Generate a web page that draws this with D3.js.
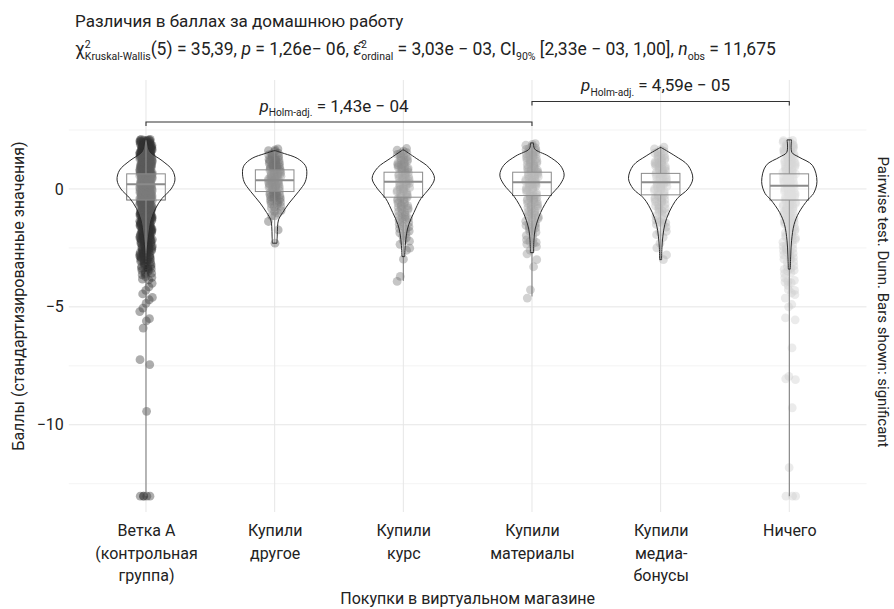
<!DOCTYPE html>
<html>
<head>
<meta charset="utf-8">
<title>Различия в баллах за домашнюю работу</title>
<script src="https://d3js.org/d3.v7.min.js"></script>
<style>
  body { margin: 0; background: #fff; }
  text { font-family: Roboto, "Liberation Sans", sans-serif; fill: #222; }
</style>
</head>
<body>
<div id="chart"></div>
<script>
// ---- data ----
var categories = ["Ветка А (контрольная группа)", "Купили другое", "Купили курс",
                  "Купили материалы", "Купили медиа-бонусы", "Ничего"];
var tickLines = [["Ветка А", "(контрольная", "группа)"], ["Купили", "другое"], ["Купили", "курс"],
                 ["Купили", "материалы"], ["Купили", "медиа-", "бонусы"], ["Ничего"]];
var yTicks = [0, -5, -10];

var boxQ1     = [-0.47, -0.11, -0.35, -0.28, -0.25, -0.47];
var boxMedian = [0.20, 0.37, 0.30, 0.28, 0.28, 0.14];
var boxQ3     = [0.64, 0.81, 0.71, 0.71, 0.66, 0.64];
var whiskerLow  = [-13.03, -2.30, -3.90, -4.56, -3.00, -13.03];
var whiskerHigh = [2.22, 1.72, 1.74, 1.95, 1.80, 2.08];

// violin outline: [value, relative half width]
var violinG1 = [[2.2,0],[2.0,0.04],[1.58,0.12],[1.2,0.5],[0.8,0.82],[0.38,0.9],[0,0.78],[-0.4,0.5],
                [-0.82,0.3],[-1.3,0.16],[-2.0,0.08],[-2.7,0.03],[-3.5,0.015]];
var violinG2 = [[1.62,0.02],[1.5,0.3],[1.3,0.7],[1.0,0.95],[0.73,1.0],[0.3,0.95],[-0.1,0.75],
                [-0.6,0.45],[-1.0,0.25],[-1.31,0.12],[-1.6,0.09],[-2.0,0.08],[-2.3,0.07]];
var violinG3 = [[1.65,0.02],[1.3,0.4],[0.9,0.8],[0.45,0.97],[0.0,0.8],[-0.4,0.55],[-1.0,0.33],
                [-1.5,0.17],[-1.9,0.1],[-2.4,0.06],[-2.87,0.04]];
var violinG4 = [[1.95,0.05],[1.7,0.08],[1.4,0.5],[1.0,0.88],[0.59,1.0],[0.2,0.88],[-0.33,0.55],
                [-1.0,0.27],[-1.7,0.1],[-2.2,0.06],[-2.7,0.05]];
var violinG5 = [[1.75,0.02],[1.4,0.45],[1.0,0.85],[0.45,1.0],[0.0,0.85],[-0.4,0.52],[-1.0,0.26],
                [-1.5,0.13],[-2.0,0.07],[-2.5,0.04],[-3.0,0.03]];
var violinG6 = [[2.08,0.07],[1.55,0.08],[1.35,0.3],[1.0,0.72],[0.31,0.86],[-0.2,0.75],[-0.45,0.58],
                [-1.0,0.3],[-1.5,0.15],[-2.2,0.07],[-2.8,0.045],[-3.4,0.03]];

// dense point band: [value, number of points around it]
var bandG1 = [[1.98,24],[1.73,28],[1.48,30],[1.23,30],[0.98,32],[0.73,32],[0.48,32],[0.23,32],
              [-0.02,32],[-0.27,32],[-0.52,30],[-0.77,28],[-1.02,26],[-1.27,25],[-1.52,23],[-1.77,22],
              [-2.02,20],[-2.27,18],[-2.52,16],[-2.77,14],[-3.02,12],[-3.27,9],[-3.52,7],[-3.77,4]];
var bandG2 = [[1.6,6],[1.35,9],[1.1,11],[0.85,12],[0.6,12],[0.35,12],[0.1,12],[-0.15,10],[-0.4,9],
              [-0.65,6],[-0.9,4]];
var bandG3 = [[1.62,5],[1.37,6],[1.12,8],[0.87,8],[0.62,8],[0.37,8],[0.12,8],[-0.13,8],[-0.38,7],
              [-0.63,6],[-0.88,6],[-1.13,6],[-1.38,5],[-1.63,4],[-1.88,4],[-2.13,3]];
var bandG4 = [[1.83,6],[1.58,8],[1.33,8],[1.08,9],[0.83,9],[0.58,9],[0.33,9],[0.08,9],[-0.17,8],
              [-0.42,8],[-0.67,7],[-0.92,6],[-1.17,6],[-1.42,6],[-1.67,5],[-1.92,4],[-2.17,4],[-2.42,3]];
var bandG5 = [[1.68,5],[1.43,6],[1.18,8],[0.93,8],[0.68,8],[0.43,8],[0.18,8],[-0.07,8],[-0.32,6],
              [-0.57,6],[-0.82,5],[-1.07,4],[-1.32,4],[-1.57,3],[-1.82,3]];
var bandG6 = [[1.96,8],[1.71,9],[1.46,9],[1.21,9],[0.96,10],[0.71,10],[0.46,10],[0.21,10],[-0.04,10],
              [-0.29,10],[-0.54,9],[-0.79,9],[-1.04,9],[-1.29,8],[-1.54,8],[-1.79,7],[-2.04,6],[-2.29,6],
              [-2.54,6],[-2.79,5],[-3.04,5],[-3.29,4],[-3.54,4],[-3.79,3],[-4.04,3],[-4.29,3],[-4.54,2]];

// single points outside the band
var outliersG1 = [-4.0,-4.15,-4.3,-4.45,-4.6,-4.7,-4.85,-5.05,-5.2,-5.5,-5.6,-5.9,-7.24,-7.45,-9.43,
                  -13.03,-13.03,-13.03,-13.03,-13.03];
var outliersG2 = [-1.14,-1.14,-1.38,-1.74,-2.3];
var outliersG3 = [-2.35,-2.51,-2.6,-2.98,-3.71,-3.92];
var outliersG4 = [-2.6,-2.75,-3.0,-3.3,-4.28,-4.63];
var outliersG5 = [-2.05,-2.3,-2.5,-2.8,-3.0];
var outliersG6 = [-4.9,-5.0,-5.47,-5.55,-6.74,-7.95,-8.05,-8.09,-9.28,-11.82,-13.03,-13.03,-13.03];

var pairFrom = [0, 3];
var pairTo = [3, 5];
var pairP = ["1,43e \u2212 04", "4,59e \u2212 05"];
var pairLevel = [2.84, 3.71];

var violins = [violinG1, violinG2, violinG3, violinG4, violinG5, violinG6];
var bands = [bandG1, bandG2, bandG3, bandG4, bandG5, bandG6];
var outliers = [outliersG1, outliersG2, outliersG3, outliersG4, outliersG5, outliersG6];
var pointColor = ["#333333", "#525252", "#707070", "#8f8f8f", "#adadad", "#cccccc"];

// ---- layout ----
var W = 894, H = 609;
var pLeft = 68.8, pRight = 866.5, pTop = 80, pBottom = 512;

var svg = d3.select("#chart").append("svg").attr("width", W).attr("height", H);

var x = d3.scalePoint().domain(categories).range([pLeft, pRight]).padding(0.6);
var y = d3.scaleLinear().domain([-13.7, 4.62]).range([pBottom, pTop]);
var step = x.step();

// grid
var grid = svg.append("g");
grid.selectAll(".minor").data([2.5, -2.5, -7.5, -12.5]).enter().append("line")
    .attr("x1", pLeft).attr("x2", pRight)
    .attr("y1", function(d) { return y(d); }).attr("y2", function(d) { return y(d); })
    .attr("stroke", "#f0f0f0").attr("stroke-width", 0.8);
grid.selectAll(".major").data(yTicks).enter().append("line")
    .attr("x1", pLeft).attr("x2", pRight)
    .attr("y1", function(d) { return y(d); }).attr("y2", function(d) { return y(d); })
    .attr("stroke", "#e6e6e6").attr("stroke-width", 1);
grid.selectAll(".vert").data(categories).enter().append("line")
    .attr("x1", function(d) { return x(d); }).attr("x2", function(d) { return x(d); })
    .attr("y1", pTop).attr("y2", pBottom)
    .attr("stroke", "#e6e6e6").attr("stroke-width", 1);

// axes (text only, no lines)
var yAxis = svg.append("g").attr("transform", "translate(" + (pLeft - 5) + ",0)")
    .call(d3.axisLeft(y).tickValues(yTicks).tickSize(0).tickPadding(0)
          .tickFormat(function(d) { return d < 0 ? "\u2212" + (-d) : d; }));
yAxis.select(".domain").remove();
yAxis.selectAll("text").attr("font-size", 16).attr("fill", "#222")
    .style("font-family", "Roboto, sans-serif");

var xAxis = svg.append("g").attr("transform", "translate(0," + pBottom + ")")
    .call(d3.axisBottom(x).tickSize(0).tickFormat(""));
xAxis.select(".domain").remove();
xAxis.selectAll(".tick").each(function(d, i) {
  var t = d3.select(this).append("text").attr("text-anchor", "middle")
      .attr("font-size", 16).attr("fill", "#222").attr("y", 24);
  tickLines[i].forEach(function(line, k) {
    t.append("tspan").attr("x", 0).attr("dy", k === 0 ? 0 : 22.5).text(line);
  });
});

// points (jitter from a fixed low-discrepancy sequence)
function frac(v) { return v - Math.floor(v); }
var pts = [];
categories.forEach(function(c, g) {
  var n = 0;
  bands[g].forEach(function(b) {
    for (var j = 0; j < b[1]; j++) {
      n++;
      pts.push({g: g, cx: x(c) + (frac(n * 0.7548776662) - 0.5) * 0.1 * step,
                v: b[0] + (frac(n * 0.5698402910 + 0.31) - 0.5) * 0.25});
    }
  });
  outliers[g].forEach(function(v) {
    n++;
    pts.push({g: g, cx: x(c) + (frac(n * 0.7548776662) - 0.5) * 0.1 * step, v: v});
  });
});
svg.append("g").selectAll("circle").data(pts).enter().append("circle")
    .attr("cx", function(d) { return d.cx; })
    .attr("cy", function(d) { return y(d.v); })
    .attr("r", 4.4)
    .attr("fill", function(d) { return pointColor[d.g]; })
    .attr("fill-opacity", 0.4);

// boxplots
var bw = 0.3 * step;
var boxes = svg.append("g").selectAll("g").data(categories).enter().append("g");
boxes.append("line")
    .attr("x1", function(d) { return x(d); }).attr("x2", function(d) { return x(d); })
    .attr("y1", function(d, i) { return y(boxQ3[i]); }).attr("y2", function(d, i) { return y(whiskerHigh[i]); })
    .attr("stroke", "#777").attr("stroke-width", 1);
boxes.append("line")
    .attr("x1", function(d) { return x(d); }).attr("x2", function(d) { return x(d); })
    .attr("y1", function(d, i) { return y(boxQ1[i]); }).attr("y2", function(d, i) { return y(whiskerLow[i]); })
    .attr("stroke", "#777").attr("stroke-width", 1);
boxes.append("rect")
    .attr("x", function(d) { return x(d) - bw / 2; }).attr("width", bw)
    .attr("y", function(d, i) { return y(boxQ3[i]); })
    .attr("height", function(d, i) { return y(boxQ1[i]) - y(boxQ3[i]); })
    .attr("fill", "#fff").attr("fill-opacity", 0.2)
    .attr("stroke", "#6e6e6e").attr("stroke-width", 1);
boxes.append("line")
    .attr("x1", function(d) { return x(d) - bw / 2; }).attr("x2", function(d) { return x(d) + bw / 2; })
    .attr("y1", function(d, i) { return y(boxMedian[i]); }).attr("y2", function(d, i) { return y(boxMedian[i]); })
    .attr("stroke", "#6e6e6e").attr("stroke-width", 2);

// violins
var vHalf = 0.25 * step;
svg.append("g").selectAll("path").data(categories).enter().append("path")
    .attr("d", function(c, i) {
      return d3.area().curve(d3.curveCatmullRom)
          .y(function(p) { return y(p[0]); })
          .x0(function(p) { return x(c) - p[1] * vHalf; })
          .x1(function(p) { return x(c) + p[1] * vHalf; })(violins[i]);
    })
    .attr("fill", "#fff").attr("fill-opacity", 0.2)
    .attr("stroke", "#2b2b2b").attr("stroke-width", 1);

// rich text helper: segments [text, kind]
function rich(sel, segs, size) {
  var shift = 0;
  segs.forEach(function(s) {
    var kind = s[1], target = 0, fs = size;
    if (kind === "sup") { target = -0.42 * size; fs = 0.6 * size; }
    if (kind === "sub" || kind === "subback") { target = 0.26 * size; fs = 0.6 * size; }
    var t = sel.append("tspan").attr("font-size", fs).attr("dy", target - shift).text(s[0]);
    if (kind === "i") t.attr("font-style", "italic");
    if (kind === "subback") t.attr("dx", -0.33 * size);
    shift = target;
  });
}

// pairwise bars
pairFrom.forEach(function(a, k) {
  var x1 = x(categories[a]), x2 = x(categories[pairTo[k]]), yy = y(pairLevel[k]);
  svg.append("path")
      .attr("d", "M" + x1 + "," + (yy + 4) + "V" + yy + "H" + x2 + "V" + (yy + 4))
      .attr("fill", "none").attr("stroke", "#333").attr("stroke-width", 1.1);
  var t = svg.append("text").attr("x", (x1 + x2) / 2 - 5).attr("y", yy - 10)
      .attr("text-anchor", "middle").attr("font-size", 17);
  rich(t, [["p", "i"], ["Holm-adj.", "sub"], [" = " + pairP[k], "n"]], 17);
});

// titles
svg.append("text").attr("x", 75).attr("y", 27).attr("font-size", 17)
    .text("Различия в баллах за домашнюю работу");
var sub = svg.append("text").attr("x", 75).attr("y", 55).attr("font-size", 17.5);
rich(sub, [["\u03C7", "n"], ["2", "sup"], ["Kruskal-Wallis", "subback"], ["(5) = 35,39, ", "n"],
           ["p", "i"], [" = 1,26e\u2212 06, ", "n"], ["\u03B5\u0302", "n"], ["2", "sup"], ["ordinal", "subback"],
           [" = 3,03e \u2212 03, CI", "n"], ["90%", "sub"], [" [2,33e \u2212 03, 1,00], ", "n"],
           ["n", "i"], ["obs", "sub"], [" = 11,675", "n"]], 17.5);

svg.append("text").attr("transform", "translate(" + ((pLeft + pRight) / 2) + ",604)")
    .attr("text-anchor", "middle").attr("font-size", 16)
    .text("Покупки в виртуальном магазине");
svg.append("text").attr("transform", "translate(24," + ((pTop + pBottom) / 2) + ")rotate(-90)")
    .attr("text-anchor", "middle").attr("font-size", 16)
    .text("Баллы (стандартизированные значения)");
svg.append("text").attr("transform", "translate(878,302)rotate(90)")
    .attr("text-anchor", "middle").attr("font-size", 15)
    .text("Pairwise test. Dunn. Bars shown: significant");
</script>
</body>
</html>
